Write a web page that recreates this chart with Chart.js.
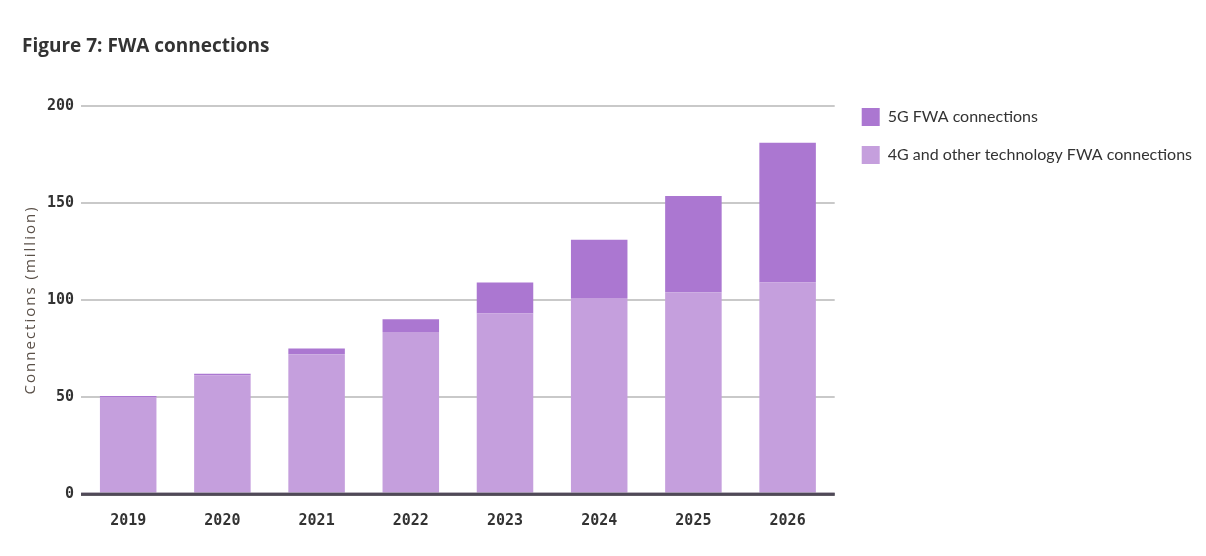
<!DOCTYPE html>
<html>
<head>
<meta charset="utf-8">
<script src="https://cdn.jsdelivr.net/npm/chart.js@4/dist/chart.umd.min.js"></script>
<style>
  html, body { margin: 0; padding: 0; background: #fff; }
  #wrap { width: 1206px; height: 556px; }
</style>
</head>
<body>
<div id="wrap"><canvas id="fwaChart"></canvas></div>
<script>
// Chart data (million connections)
const years = ['2019', '2020', '2021', '2022', '2023', '2024', '2025', '2026'];
const fourGOther = [50, 61, 72, 83.5, 93, 101, 104, 109];
const fiveG = [0.5, 1, 3, 6.5, 16, 30, 49.5, 72];
const yTicks = [0, 50, 100, 150, 200];

const colors = {
  fiveG: '#ab77d1',
  fourG: '#c59fdd',
  grid: '#c9c9c9',
  zero: '#6f6f6f',
  text: '#333333'
};

// Linear scale whose axis title is drawn with wider letter spacing
class SpacedLinearScale extends Chart.LinearScale {
  drawTitle() {
    const c = this.ctx;
    const prev = c.letterSpacing;
    c.letterSpacing = '2px';
    super.drawTitle();
    c.letterSpacing = prev;
  }
}
SpacedLinearScale.id = 'spacedLinear';
SpacedLinearScale.defaults = Chart.LinearScale.defaults;
Chart.register(SpacedLinearScale);

// Draw the zero line on top of the bars, like the original
const zeroLinePlugin = {
  id: 'zeroLine',
  afterDatasetsDraw(chart) {
    const { ctx, chartArea, scales } = chart;
    const y = scales.y.getPixelForValue(0);
    ctx.save();
    ctx.strokeStyle = 'rgba(70, 60, 80, 0.75)';
    ctx.lineWidth = 3;
    ctx.beginPath();
    ctx.moveTo(chartArea.left, y);
    ctx.lineTo(chartArea.right, y);
    ctx.stroke();
    ctx.restore();
  }
};

// Move the legend down so its first item sits level with the top gridline
const legendShift = {
  id: 'legendShift',
  afterLayout(chart) {
    chart.legend.top += 53;
    chart.legend.left += 7;
  }
};

const ctx = document.getElementById('fwaChart').getContext('2d');

new Chart(ctx, {
  type: 'bar',
  data: {
    labels: years,
    datasets: [
      {
        label: '4G and other technology FWA connections',
        data: fourGOther,
        backgroundColor: colors.fourG,
        stack: 'fwa'
      },
      {
        label: '5G FWA connections',
        data: fiveG,
        backgroundColor: colors.fiveG,
        stack: 'fwa'
      }
    ]
  },
  options: {
    responsive: true,
    maintainAspectRatio: false,
    animation: false,
    categoryPercentage: 1,
    barPercentage: 0.6,
    layout: {
      padding: { left: 22, right: 11, top: 35, bottom: 16 }
    },
    scales: {
      x: {
        stacked: true,
        grid: { display: false },
        border: { display: false },
        ticks: {
          color: colors.text,
          padding: 10,
          font: { family: 'DejaVu Sans Mono', size: 15, weight: 'bold' }
        }
      },
      y: {
        type: 'spacedLinear',
        stacked: true,
        min: 0,
        max: 200,
        afterBuildTicks(axis) {
          axis.ticks = yTicks.map(v => ({ value: v }));
        },
        border: { display: false },
        grid: {
          drawTicks: false,
          color: c => (c.tick && c.tick.value === 0 ? colors.zero : colors.grid),
          lineWidth: c => (c.tick && c.tick.value === 0 ? 3 : 2)
        },
        ticks: {
          color: colors.text,
          padding: 7,
          font: { family: 'DejaVu Sans Mono', size: 15, weight: 'bold' }
        },
        title: {
          display: true,
          text: 'Connections (million)',
          color: '#5a5048',
          padding: { top: 0, bottom: 0 },
          font: { family: 'Open Sans', size: 15 }
        }
      }
    },
    plugins: {
      title: {
        display: true,
        text: 'Figure 7: FWA connections',
        align: 'start',
        color: colors.text,
        padding: { top: 0, bottom: 48 },
        font: { family: 'Open Sans', size: 19, weight: 'bold' }
      },
      legend: {
        position: 'right',
        align: 'start',
        reverse: true,
        maxWidth: 420,
        labels: {
          boxWidth: 18,
          boxHeight: 18,
          padding: 20,
          color: colors.text,
          font: { family: 'Lato', size: 16 }
        }
      },
      tooltip: { enabled: false }
    }
  },
  plugins: [zeroLinePlugin, legendShift]
});
</script>
</body>
</html>
